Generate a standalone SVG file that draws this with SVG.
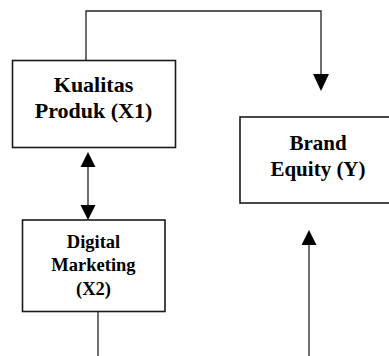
<svg xmlns="http://www.w3.org/2000/svg" width="389" height="356" viewBox="0 0 389 356">
<style>
.box{fill:#fff;stroke:#1a1a1a;stroke-width:1.6}
.lbl{font-family:"Liberation Serif","Times New Roman",serif;font-weight:bold;fill:#000;text-anchor:middle}
.con{fill:none;stroke:#222;stroke-width:1.3}
.head{fill:#000}
</style>
<rect width="389" height="356" fill="#fff"/>
<g id="connectors">
<polyline class="con" points="86,60 86,11 321,11 321,76"/>
<polygon class="head" points="313,74 329,74 321,91"/>
<line class="con" x1="88" y1="165" x2="88" y2="206"/>
<polygon class="head" points="80.5,167 95.5,167 88,152"/>
<polygon class="head" points="80.5,205 95.5,205 88,220"/>
<line class="con" x1="98" y1="312" x2="98" y2="356"/>
<line class="con" x1="309" y1="243" x2="309" y2="356"/>
<polygon class="head" points="301.5,245 316.5,245 309,230"/>
</g>
<g id="node-x1">
<rect class="box" x="12.5" y="60.5" width="163" height="87"/>
<text class="lbl" font-size="22" x="93.5" y="92">Kualitas</text>
<text class="lbl" font-size="22" x="93.5" y="118">Produk (X1)</text>
</g>
<g id="node-y">
<rect class="box" x="240" y="117" width="160" height="86"/>
<text class="lbl" font-size="21" x="318" y="150">Brand</text>
<text class="lbl" font-size="21" x="318" y="176">Equity (Y)</text>
</g>
<g id="node-x2">
<rect class="box" x="22.5" y="220" width="142.5" height="91.5"/>
<text class="lbl" font-size="18.5" x="93.5" y="248">Digital</text>
<text class="lbl" font-size="18.5" x="93.5" y="271">Marketing</text>
<text class="lbl" font-size="18.5" x="93.5" y="295">(X2)</text>
</g>
</svg>
